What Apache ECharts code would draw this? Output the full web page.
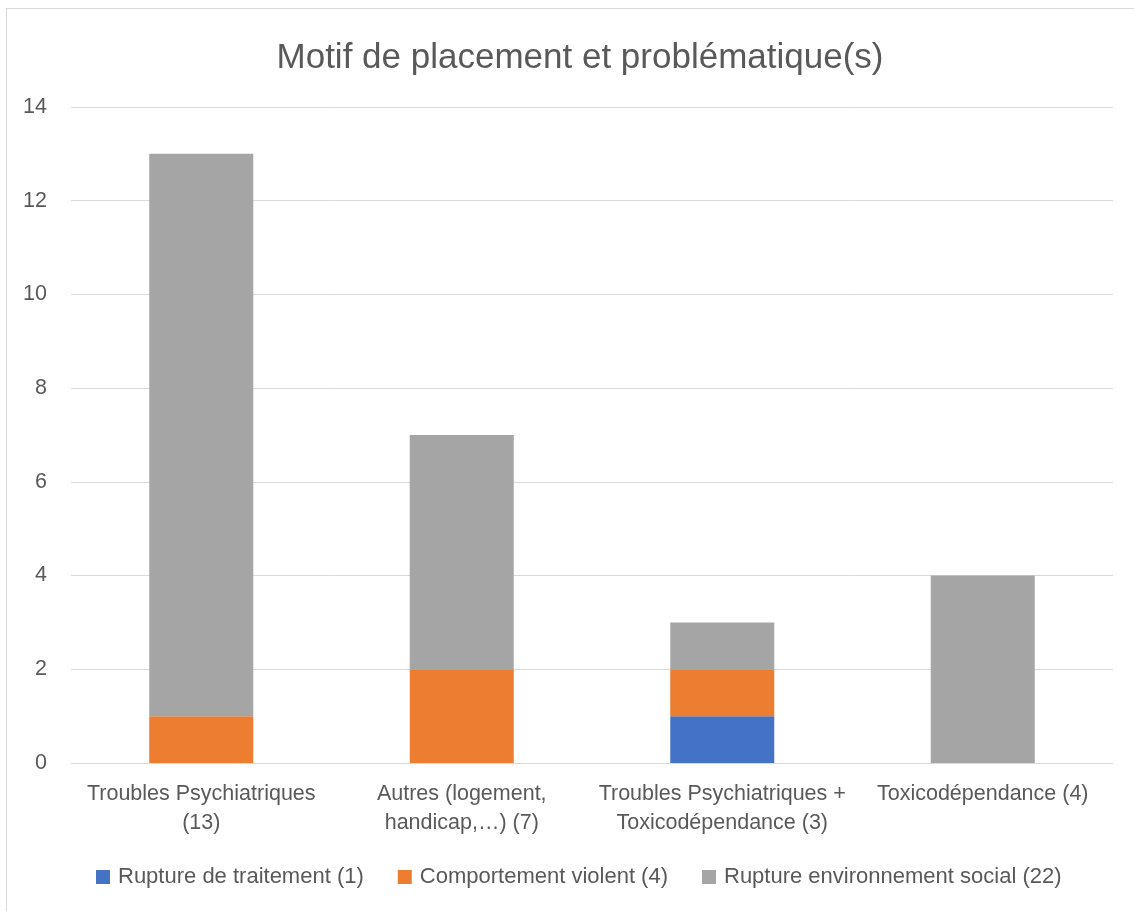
<!DOCTYPE html>
<html>
<head>
<meta charset="utf-8">
<script src="https://cdn.jsdelivr.net/npm/echarts@6/dist/echarts.min.js"></script>
<style>
  html, body { margin: 0; padding: 0; background: #fff; overflow: hidden; }
  #frame { position: absolute; left: 6px; top: 8px; width: 1140px; height: 920px; border: 1px solid #d9d9d9; }
  #main { position: absolute; left: 0; top: 0; width: 1134px; height: 911px; }
</style>
</head>
<body>
<div id="frame"></div>
<div id="main"></div>
<script>
// données
var categories = [
  "Troubles Psychiatriques\n(13)",
  "Autres (logement,\nhandicap,…) (7)",
  "Troubles Psychiatriques +\nToxicodépendance (3)",
  "Toxicodépendance (4)"
];
var seriesNames = [
  "Rupture de traitement (1)",
  "Comportement violent (4)",
  "Rupture environnement social (22)"
];
var rupture = [0, 0, 1, 0];
var violent = [1, 2, 1, 0];
var social = [12, 5, 1, 4];
var colors = ["#4472C4", "#ED7D31", "#A5A5A5"];

var txt = "#595959";
var font = "Liberation Sans";

var myChart = echarts.init(document.getElementById("main"));

function makeSeries(name, data, i) {
  return {
    name: name,
    type: "bar",
    stack: "total",
    data: data,
    barWidth: 104,
    itemStyle: { color: colors[i] },
    emphasis: { disabled: true }
  };
}

var option = {
  animation: false,
  textStyle: { fontFamily: font },
  title: {
    text: "Motif de placement et problématique(s)",
    left: 575,
    textAlign: "center",
    top: 36,
    textStyle: { fontSize: 35, fontWeight: "normal", color: txt, fontFamily: font }
  },
  legend: {
    top: 866,
    left: 96,
    padding: 0,
    itemWidth: 14,
    itemHeight: 14,
    itemGap: 34,
    icon: "rect",
    textStyle: { fontSize: 22, color: txt, padding: [0, 0, 0, 3] },
    data: seriesNames
  },
  grid: { left: 71, right: 21, top: 107, bottom: 148, containLabel: false },
  xAxis: {
    type: "category",
    data: categories,
    axisLine: { lineStyle: { color: "#d9d9d9" } },
    axisTick: { show: false },
    axisLabel: { fontSize: 21.5, color: txt, lineHeight: 29, margin: 17, interval: 0 }
  },
  yAxis: {
    type: "value",
    min: 0,
    max: 14,
    interval: 2,
    axisLine: { show: false },
    axisTick: { show: false },
    axisLabel: { fontSize: 21.5, color: txt, margin: 24 },
    splitLine: { lineStyle: { color: "#d9d9d9" } }
  },
  series: [
    makeSeries(seriesNames[0], rupture, 0),
    makeSeries(seriesNames[1], violent, 1),
    makeSeries(seriesNames[2], social, 2)
  ]
};

myChart.setOption(option);
</script>
</body>
</html>
